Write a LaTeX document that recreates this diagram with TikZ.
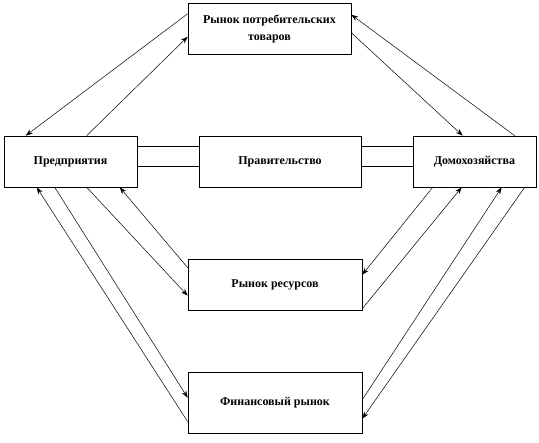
\documentclass[tikz,border=0pt]{standalone}
\usepackage{fontspec}
\setmainfont{Liberation Serif}
\usetikzlibrary{arrows.meta}
\begin{document}
\begin{tikzpicture}[x=1pt,y=-1pt,
  box/.style={draw, line width=0.6pt, inner sep=0pt, align=center,
    font=\fontsize{12}{17}\selectfont\bfseries},
  flow/.style={line width=0.5pt, -{Stealth[length=7pt,width=5pt]}},
  link/.style={line width=0.5pt}]
\useasboundingbox (0,0) rectangle (539,443);
\node[box, minimum width=163pt, minimum height=51pt] (T) at (269.5,28.5) {Рынок потребительских\\товаров};
\node[box, minimum width=133pt, minimum height=51pt] (P) at (70.5,161.5) {Предприятия};
\node[box, minimum width=162pt, minimum height=51pt] (G) at (280,161.5) {Правительство};
\node[box, minimum width=123pt, minimum height=51pt] (H) at (474.5,161.5) {Домохозяйства};
\node[box, minimum width=174pt, minimum height=51pt] (R) at (275,284.5) {Рынок ресурсов};
\node[box, minimum width=174pt, minimum height=61pt] (F) at (275,402.5) {Финансовый рынок};
% government links
\draw[link] ([yshift=-11pt]P.north east) -- ([yshift=-11pt]G.north west);
\draw[link] ([yshift=-31pt]P.north east) -- ([yshift=-31pt]G.north west);
\draw[link] ([yshift=-11pt]G.north east) -- ([yshift=-11pt]H.north west);
\draw[link] ([yshift=-31pt]G.north east) -- ([yshift=-31pt]H.north west);
% consumer goods market
\draw[flow] ([yshift=-11pt]T.north west) -- ([xshift=22pt]P.north west);
\draw[flow] ([xshift=83pt]P.north west) -- ([yshift=-34pt]T.north west);
\draw[flow] ([xshift=102pt]H.north west) -- ([yshift=-12pt]T.north east);
\draw[flow] ([yshift=-30pt]T.north east) -- ([xshift=50pt]H.north west);
% resource market
\draw[flow] ([xshift=83pt]P.south west) -- ([yshift=-37pt]R.north west);
\draw[flow] ([yshift=-9pt]R.north west) -- ([xshift=116pt]P.south west);
\draw[flow] ([xshift=20pt]H.south west) -- ([yshift=-16pt]R.north east);
\draw[flow] ([yshift=-50pt]R.north east) -- ([xshift=49pt]H.south west);
% financial market
\draw[flow] ([xshift=51pt]P.south west) -- ([yshift=-26pt]F.north west);
\draw[flow] ([yshift=-50pt]F.north west) -- ([xshift=33pt]P.south west);
\draw[flow] ([yshift=-28pt]F.north east) -- ([xshift=89pt]H.south west);
\draw[flow] ([xshift=112pt]H.south west) -- ([yshift=-47pt]F.north east);
\end{tikzpicture}
\end{document}
